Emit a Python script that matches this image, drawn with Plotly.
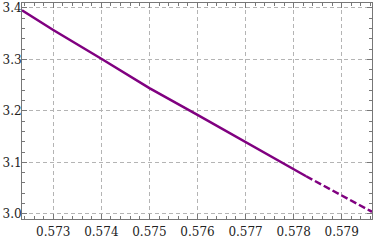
import plotly.graph_objects as go

x_solid = [0.57235, 0.573, 0.574, 0.575, 0.576, 0.577, 0.578, 0.57826]
y_solid = [3.395, 3.357, 3.301, 3.244, 3.192, 3.140, 3.087, 3.073]
x_dash = [0.57826, 0.579, 0.57963]
y_dash = [3.073, 3.035, 3.004]

x_ticks = [0.573, 0.574, 0.575, 0.576, 0.577, 0.578, 0.579]
y_ticks = [3.0, 3.1, 3.2, 3.3, 3.4]

purple = "#800080"
fig = go.Figure()
fig.add_trace(go.Scatter(x=x_solid, y=y_solid, mode="lines",
                         line=dict(color=purple, width=2.5), showlegend=False))
fig.add_trace(go.Scatter(x=x_dash, y=y_dash, mode="lines",
                         line=dict(color=purple, width=2.5, dash="7px,3px"), showlegend=False))

axis_common = dict(
    showline=True, linecolor="#777", linewidth=1, mirror="ticks",
    ticks="inside", ticklen=5, tickcolor="#777", tickwidth=1,
    showgrid=True, gridcolor="#b4b4b4", griddash="4px,3px", gridwidth=1,
    zeroline=False, automargin=False,
    tickfont=dict(family="DejaVu Serif", size=12, color="#222"),
)
fig.update_xaxes(range=[0.57235, 0.57963], tickvals=x_ticks,
                 ticktext=[f"{v:.3f}" for v in x_ticks],
                 ticklabelstandoff=2,
                 minor=dict(dtick=0.0002, ticks="inside", ticklen=3, tickcolor="#777", showgrid=False),
                 **axis_common)
fig.update_yaxes(range=[2.990, 3.4093], tickvals=y_ticks,
                 ticktext=[f"{v:.1f}" for v in y_ticks],
                 ticklabelstandoff=-3,
                 minor=dict(dtick=0.02, ticks="inside", ticklen=3, tickcolor="#777", showgrid=False),
                 **axis_common)
fig.update_layout(width=374, height=240, margin=dict(l=22, r=2, t=3, b=21),
                  plot_bgcolor="white", paper_bgcolor="white")
fig.write_html("out.html", config={"displayModeBar": False},
               post_script="document.body.style.margin='0';document.body.style.padding='0';document.body.style.overflow='hidden';")
